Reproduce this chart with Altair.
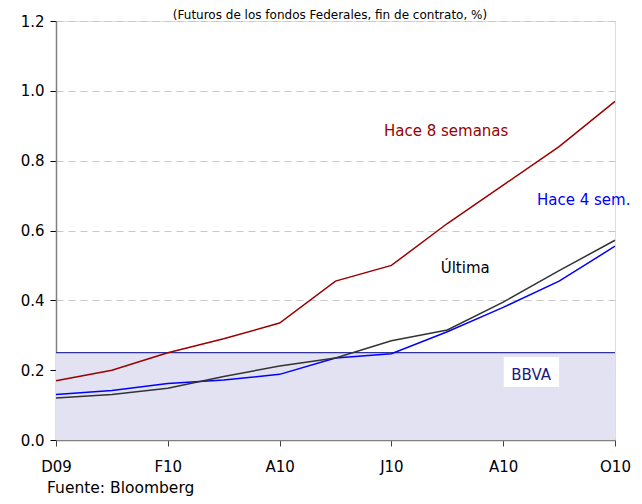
import altair as alt
import pandas as pd

# Data
months = ["D09", "E10", "F10", "M10", "A10", "My10", "J10", "Jl10", "A10b", "S10", "O10"]
idx = list(range(11))
hace8 = [0.17, 0.20, 0.25, 0.29, 0.335, 0.455, 0.50, 0.62, 0.73, 0.84, 0.97]
hace4 = [0.13, 0.142, 0.162, 0.172, 0.188, 0.235, 0.247, 0.31, 0.38, 0.455, 0.555]
ultima = [0.12, 0.13, 0.148, 0.182, 0.212, 0.235, 0.284, 0.315, 0.395, 0.485, 0.572]
tick_labels = ["D09", "F10", "A10", "J10", "A10", "O10"]
bbva_level = 0.25

series_names = ["Hace 8 semanas", "Hace 4 sem.", "Última"]
series_colors = ["#990000", "#0000ff", "#333333"]

rows = []
for name, vals in zip(series_names, [hace8, hace4, ultima]):
    for i, v in zip(idx, vals):
        rows.append({"i": i, "v": v, "s": name})
df = pd.DataFrame(rows)

band = pd.DataFrame({"x": [0], "x2": [10], "y": [0], "y2": [bbva_level]})

labels = pd.DataFrame({
    "i": [6.98, 9.44, 7.32, 8.5],
    "v": [0.885, 0.688, 0.493, 0.186],
    "t": ["Hace 8 semanas", "Hace 4 sem.", "Última", "BBVA"],
    "c": ["#990000", "#0000ff", "#000000", "#1a1a80"],
})
box = pd.DataFrame({"x": [8.01], "x2": [9.0], "y": [0.152], "y2": [0.238]})

FONT = "DejaVu Sans"

xscale = alt.Scale(domain=[0, 10], nice=False, zero=False)
yscale = alt.Scale(domain=[0, 1.2], nice=False)

xaxis = alt.Axis(
    values=[0, 2, 4, 6, 8, 10],
    labelExpr="['D09','F10','A10','J10','A10','O10'][round(datum.value/2)]",
    title=None, grid=False, domainColor="#808080", tickColor="#404040",
    tickSize=6, labelPadding=13, labelFont=FONT, labelFontSize=15,
    labelColor="#000000", domainWidth=1.5, labelFlush=False,
)
yaxis = alt.Axis(
    values=[0, 0.2, 0.4, 0.6, 0.8, 1.0, 1.2], format=".1f",
    title=None, grid=True, gridDash=[7, 5], gridColor="#c8c8c8",
    domainColor="#808080", tickColor="#000000", tickSize=6,
    labelPadding=6, labelFont=FONT, labelFontSize=15, labelColor="#000000",
    domainWidth=1.5, labelFlush=False,
)

bg = alt.Chart(band).mark_rect(color="#e2e2f2").encode(
    x=alt.X("x:Q", scale=xscale, axis=xaxis),
    x2="x2:Q",
    y=alt.Y("y:Q", scale=yscale, axis=yaxis),
    y2="y2:Q",
)
top_rule = alt.Chart(band).mark_rule(color="#333399", strokeWidth=1.2).encode(
    x=alt.X("x:Q", scale=xscale), x2="x2:Q", y=alt.Y("y2:Q", scale=yscale)
)

lines = alt.Chart(df).mark_line(strokeWidth=1.5).encode(
    x=alt.X("i:Q", scale=xscale),
    y=alt.Y("v:Q", scale=yscale),
    color=alt.Color("s:N", scale=alt.Scale(domain=series_names, range=series_colors), legend=None),
)

wbox = alt.Chart(box).mark_rect(color="white").encode(
    x=alt.X("x:Q", scale=xscale), x2="x2:Q", y=alt.Y("y:Q", scale=yscale), y2="y2:Q"
)

texts = alt.Chart(labels).mark_text(font=FONT, fontSize=15, align="center", baseline="middle").encode(
    x=alt.X("i:Q", scale=xscale),
    y=alt.Y("v:Q", scale=yscale),
    text="t:N",
    color=alt.Color("c:N", scale=None),
)

title_txt = alt.Chart(pd.DataFrame({"t": ["(Futuros de los fondos Federales, fin de contrato, %)"]})).mark_text(
    font=FONT, fontSize=12, align="center", baseline="alphabetic", color="#000000"
).encode(x=alt.value(274), y=alt.value(-2), text="t:N")

source_txt = alt.Chart(pd.DataFrame({"t": ["Fuente: Bloomberg"]})).mark_text(
    font=FONT, fontSize=15.5, align="left", baseline="alphabetic", color="#000000"
).encode(x=alt.value(-9), y=alt.value(472), text="t:N")

chart = alt.layer(bg, top_rule, lines, wbox, texts, title_txt, source_txt).properties(
    width=559, height=419,
    autosize=alt.AutoSizeParams(type="none"),
    padding={"left": 48, "top": 13, "right": 19, "bottom": 56},
).configure_view(stroke=None).configure(background="white")

chart.save("out.html", embed_options={"renderer": "svg", "actions": False})
